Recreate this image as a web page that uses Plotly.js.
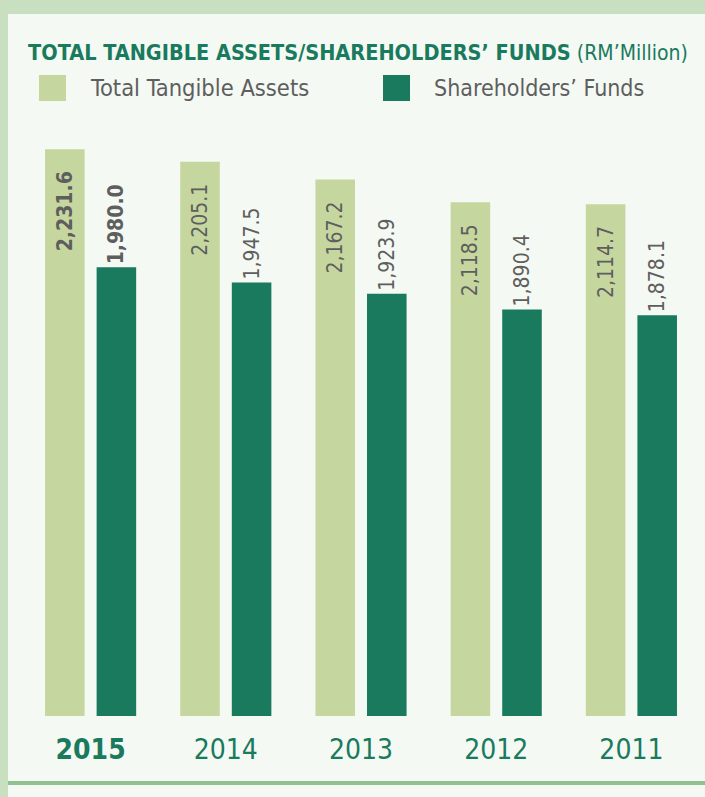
<!DOCTYPE html>
<html>
<head>
<meta charset="utf-8">
<script src="https://cdn.plot.ly/plotly-3.0.1.min.js"></script>
<style>html,body{margin:0;padding:0;background:#c9e0c0;}#chart{width:705px;height:797px;}</style>
</head>
<body>
<div id="chart"></div>
<script>
// ---- data ----
const years = ['2015', '2014', '2013', '2012', '2011'];
const totalTangibleAssets = [2231.6, 2205.1, 2167.2, 2118.5, 2114.7];
const shareholdersFunds = [1980.0, 1947.5, 1923.9, 1890.4, 1878.1];
const seriesNames = ['Total Tangible Assets', 'Shareholders\u2019 Funds'];
const chartTitle = 'TOTAL TANGIBLE ASSETS/SHAREHOLDERS\u2019 FUNDS';
const chartUnit = '(RM\u2019Million)';

// ---- style ----
const W = 705, H = 797;
const M = {l: 23, r: 6, t: 120, b: 81};
const PW = W - M.l - M.r, PH = H - M.t - M.b;
const px = x => (x - M.l) / PW;
const py = y => (H - M.b - y) / PH;
const LIGHT = '#c5d79f', DARK = '#1a7a5e', GRAY = '#5e5e5e';
const FONT = '"DejaVu Sans Condensed", "Liberation Sans", sans-serif';

const fmt = v => v.toLocaleString('en-US', {minimumFractionDigits: 1, maximumFractionDigits: 1});
const lbl = arr => arr.map((v, i) => i === 0 ? '<b>' + fmt(v) + '</b>' : fmt(v));
const tickText = years.map((y, i) => i === 0 ? '<b>' + y + '</b>' : y);

const traces = [
  {
    type: 'bar', name: seriesNames[0], x: years, y: totalTangibleAssets,
    marker: {color: LIGHT}, text: lbl(totalTangibleAssets),
    texttemplate: '%{text}\u2003', textposition: 'inside', insidetextanchor: 'end',
    textangle: -90, constraintext: 'none',
    textfont: {family: FONT, size: 21, color: GRAY}, hoverinfo: 'x+y', showlegend: false
  },
  {
    type: 'bar', name: seriesNames[1], x: years, y: shareholdersFunds,
    marker: {color: DARK}, text: lbl(shareholdersFunds),
    texttemplate: '%{text}\u2002', textposition: 'outside',
    textangle: -90, constraintext: 'none', cliponaxis: false,
    textfont: {family: FONT, size: 21, color: GRAY}, hoverinfo: 'x+y', showlegend: false
  }
];

const shapes = [
  // panel
  {type: 'rect', xref: 'paper', yref: 'paper', x0: px(9), x1: px(708), y0: py(15), y1: py(800),
   fillcolor: '#b4ccab', line: {width: 0}, layer: 'below'},
  {type: 'rect', xref: 'paper', yref: 'paper', x0: px(8), x1: px(708), y0: py(14), y1: py(800),
   fillcolor: '#f4f9f3', line: {width: 0}, layer: 'below'},
  // bottom rule
  {type: 'rect', xref: 'paper', yref: 'paper', x0: px(8), x1: px(708), y0: py(781), y1: py(785),
   fillcolor: '#8fc28f', line: {width: 0}, layer: 'below'},
  // legend swatches
  {type: 'rect', xref: 'paper', yref: 'paper', x0: px(39), x1: px(66), y0: py(75), y1: py(101),
   fillcolor: LIGHT, line: {width: 0}},
  {type: 'rect', xref: 'paper', yref: 'paper', x0: px(383), x1: px(410), y0: py(75), y1: py(101),
   fillcolor: DARK, line: {width: 0}}
];

const annotations = [
  {xref: 'paper', yref: 'paper', x: px(26), y: py(52), xanchor: 'left', yanchor: 'middle', showarrow: false,
   text: '<b>' + chartTitle + '</b> <span style="font-size:21px">' + chartUnit + '</span>',
   font: {family: FONT, size: 21.5, color: DARK}},
  {xref: 'paper', yref: 'paper', x: px(88), y: py(88), xanchor: 'left', yanchor: 'middle', showarrow: false,
   text: seriesNames[0], font: {family: FONT, size: 23.5, color: GRAY}},
  {xref: 'paper', yref: 'paper', x: px(432), y: py(88), xanchor: 'left', yanchor: 'middle', showarrow: false,
   text: seriesNames[1], font: {family: FONT, size: 23, color: GRAY}}
];

const layout = {
  width: W, height: H, margin: M,
  paper_bgcolor: '#c9e0c0', plot_bgcolor: 'rgba(0,0,0,0)',
  barmode: 'group', bargap: 0.237, bargroupgap: 0.233,
  showlegend: false,
  xaxis: {type: 'category', tickvals: years, ticktext: tickText, showgrid: false, zeroline: false,
          showline: false, ticks: 'outside', ticklen: 8, tickcolor: 'rgba(0,0,0,0)',
          tickfont: {family: FONT, size: 28, color: DARK}, fixedrange: true},
  yaxis: {range: [1024, 2294], visible: false, showgrid: false, zeroline: false, fixedrange: true},
  shapes: shapes, annotations: annotations,
  font: {family: FONT}
};

Plotly.newPlot('chart', traces, layout, {displayModeBar: false, staticPlot: true});
</script>
</body>
</html>
